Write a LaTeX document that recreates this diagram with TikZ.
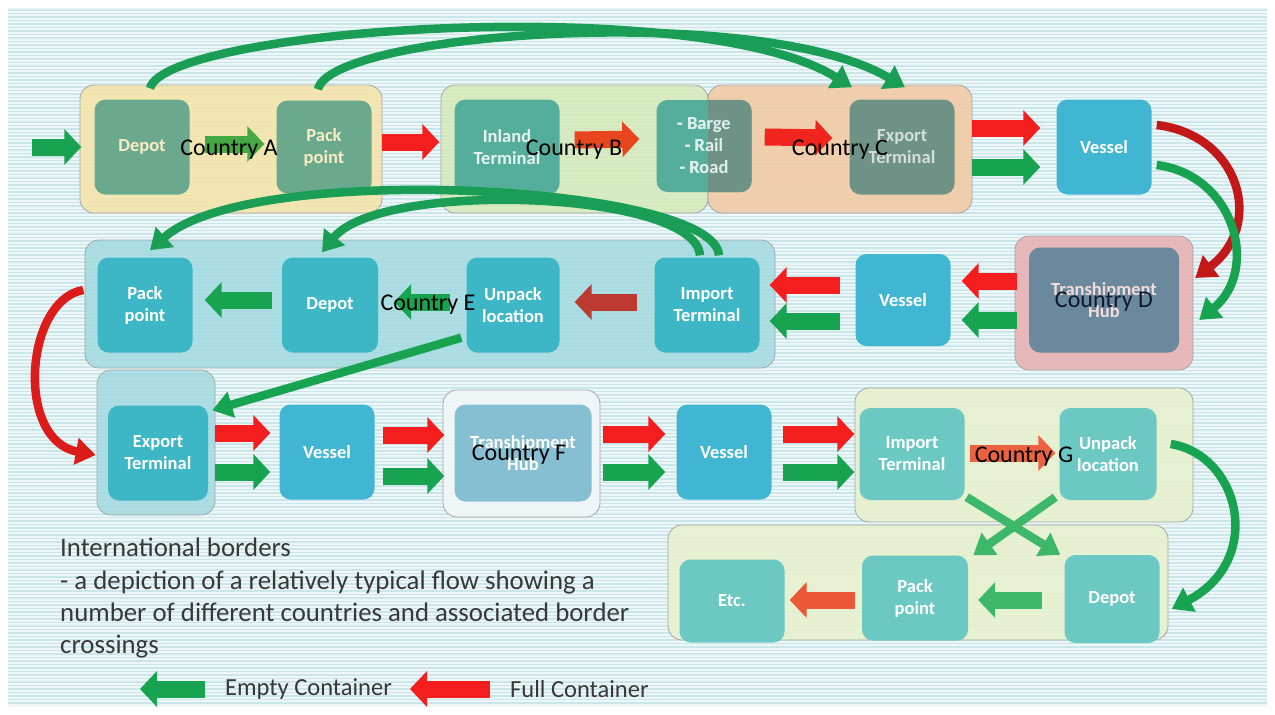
\documentclass[tikz,border=0pt]{standalone}
\usepackage{fontspec}
\setmainfont{Carlito}
\usetikzlibrary{arrows.meta,calc}
\definecolor{bgfill}{HTML}{EEF7F8}
\definecolor{bgline}{HTML}{CBE6EA}
\definecolor{rd}{HTML}{F41E1E}
\definecolor{gn}{HTML}{17A350}
\definecolor{lgn}{HTML}{3DB86B}
\definecolor{mgn}{HTML}{45A845}
\definecolor{drd}{HTML}{BD3A30}
\definecolor{ord}{HTML}{E8461E}
\definecolor{crvg}{HTML}{1A9E55}
\definecolor{contA}{HTML}{F6E4A6}
\definecolor{contB}{HTML}{D6E9B8}
\definecolor{contC}{HTML}{F2C9A2}
\definecolor{contD}{HTML}{E8AEB0}
\definecolor{contE}{HTML}{A2DAE0}
\definecolor{contF}{HTML}{F2F7F8}
\definecolor{contG}{HTML}{E8F1CC}
\definecolor{bxA}{HTML}{6BA98F}
\definecolor{bxB}{HTML}{55AE9B}
\definecolor{bxC}{HTML}{6F9287}
\definecolor{bxV}{HTML}{40B6D2}
\definecolor{bxE}{HTML}{3DB7C6}
\definecolor{bxD}{HTML}{6B899C}
\definecolor{bxF}{HTML}{86BFD2}
\definecolor{bxG}{HTML}{6CC8C2}
\definecolor{txt}{HTML}{383838}
\begin{document}
\begin{tikzpicture}[x=1pt,y=-1pt,
  cont/.style={draw=gray!70, fill opacity=0.85, rounded corners=14, line width=0.8},
  box/.style={rectangle, rounded corners=11, minimum width=95, minimum height=95,
    text=white, font=\fontsize{18.5}{22}\selectfont\bfseries, align=center, inner sep=2},
  ctry/.style={font=\fontsize{24}{26}\selectfont, text=black, inner sep=0},
  blk/.style={line width=17, -{Triangle[length=17,width=35]}},
  crv/.style={line width=8.5, -{Triangle[length=20,width=26]}},
]
\useasboundingbox (0,0) rectangle (1275,715);
\fill[white] (0,0) rectangle (1275,715);
\fill[bgfill] (8,8) rectangle (1267,707);
\foreach \yy in {10,13.5,...,706} \draw[bgline, line width=1.2] (8,\yy) -- (1267,\yy);

% containers
\draw[cont, fill=contA] (80,85) rectangle (382,213);
\draw[cont, fill=contB] (441,85) rectangle (708,213);
\draw[cont, fill=contC] (708,85) rectangle (972,213);
\draw[cont, fill=contE] (85,240) rectangle (775,368);
\draw[cont, fill=contD] (1015,236) rectangle (1193,370);
\draw[cont, fill=contE] (97,370) rectangle (215,515);
\draw[cont, fill=contF] (443,390) rectangle (600,517);
\draw[cont, fill=contG] (855,388) rectangle (1193,522);
\draw[cont, fill=contG] (668,525) rectangle (1168,640);

% row 1
\node[box, fill=bxA, text=contA!70!white] (depA) at (142,147) {Depot};
\node[box, fill=bxA, text=contA!70!white, minimum height=93] (packA) at (324,147) {Pack\\point};
\node[box, fill=bxB, text=white!85!bxB, minimum width=105] (inland) at (507,147) {Inland\\Terminal};
\node[box, fill=bxB, text=white!80!bxB, minimum height=92] (barge) at (704,146) {- Barge\\- Rail\\- Road};
\begin{scope}
\clip (708,95) rectangle (760,200);
\fill[bxC, rounded corners=11] (barge.south west) rectangle (barge.north east);
\end{scope}
\node[box, text=white!80!bxB, minimum height=92, align=center] at (704,146) {- Barge\\- Rail\\- Road};
\node[box, fill=bxC, text=white!70!bxC, minimum width=105] (exportC) at (902,147) {Export\\Terminal};
\node[box, fill=bxV] (vesselA) at (1104,147) {Vessel};

% row 2
\node[box, fill=bxE] (packE) at (145,305) {Pack\\point};
\node[box, fill=bxE, minimum width=96] (depE) at (330,305) {Depot};
\node[box, fill=bxE, minimum width=93] (unpackE) at (513,305) {Unpack\\location};
\node[box, fill=bxE, minimum width=105] (importE) at (707,305) {Import\\Terminal};
\node[box, fill=bxV, minimum height=92] (vesselB) at (903,300) {Vessel};
\node[box, fill=bxD, text=contD!45!white, minimum width=150, minimum height=105] (hubD) at (1104,300) {Transhipment\\Hub};

% row 3
\node[box, fill=bxE, minimum width=100] (exportT) at (158,453) {Export\\Terminal};
\node[box, fill=bxV] (vesselC) at (327,452) {Vessel};
\node[box, fill=bxF, minimum width=137, minimum height=97] (hubF) at (523,453) {Transhipment\\Hub};
\node[box, fill=bxV] (vesselD) at (724,452) {Vessel};
\node[box, fill=bxG, minimum width=105, minimum height=92] (importG) at (912,454) {Import\\Terminal};
\node[box, fill=bxG, minimum width=97, minimum height=92] (unpackG) at (1108,454) {Unpack\\location};

% row 4
\node[box, fill=bxG, minimum width=105, minimum height=83] (etc) at (732,601) {Etc.};
\node[box, fill=bxG, minimum width=106, minimum height=85] (packG) at (915,598) {Pack\\point};
\node[box, fill=bxG, minimum height=88] (depG) at (1112,599) {Depot};

% horizontal arrows row 1
\coordinate (entry) at (32,147);
\draw[blk, gn] (entry) -- ($(depA.west)+(-13,0)$);
\draw[blk, mgn] ($(depA.east)+(15,-3)$) -- ($(packA.west)+(-12,-3)$);
\draw[blk, rd] ($(packA.east)+(10,-5)$) -- ($(inland.west)+(-15,-5)$);
\draw[blk, ord] ($(inland.east)+(15,-7)$) -- ($(barge.west)+(-17,-7)$);
\draw[blk, rd!85!ord] ($(barge.east)+(13,-9)$) -- ($(exportC.west)+(-17,-9)$);
\draw[blk, rd] ($(exportC.east)+(17,-19)$) -- ($(vesselA.west)+(-16,-19)$);
\draw[blk, gn] ($(exportC.east)+(17,20)$) -- ($(vesselA.west)+(-16,20)$);

% row 2
\draw[blk, rd] ($(vesselB.west)+(-15,-15)$) -- ($(importE.east)+(10,-20)$);
\draw[blk, gn] ($(vesselB.west)+(-15,21)$) -- ($(importE.east)+(10,16)$);
\draw[blk, rd] ($(hubD.west)+(-12,-19)$) -- ($(vesselB.east)+(11,-19)$);
\draw[blk, gn] ($(hubD.west)+(-12,20)$) -- ($(vesselB.east)+(11,20)$);
\draw[blk, drd] ($(importE.west)+(-17,-3)$) -- ($(unpackE.east)+(15,-3)$);
\draw[blk, gn] ($(unpackE.west)+(-16,-3)$) -- ($(depE.east)+(16,-3)$);
\draw[blk, gn] ($(depE.west)+(-10,-5)$) -- ($(packE.east)+(12,-5)$);

% row 3
\draw[blk, rd] ($(exportT.east)+(7,-20)$) -- ($(vesselC.west)+(-9,-19)$);
\draw[blk, gn] ($(exportT.east)+(7,19)$) -- ($(vesselC.west)+(-9,20)$);
\draw[blk, rd] ($(vesselC.east)+(8,-17)$) -- ($(hubF.west)+(-10,-18)$);
\draw[blk, gn] ($(vesselC.east)+(8,24)$) -- ($(hubF.west)+(-10,23)$);
\draw[blk, rd] ($(hubF.east)+(11,-19)$) -- ($(vesselD.west)+(-11,-18)$);
\draw[blk, gn] ($(hubF.east)+(11,19)$) -- ($(vesselD.west)+(-11,20)$);
\draw[blk, rd] ($(vesselD.east)+(11,-18)$) -- ($(importG.west)+(-5,-20)$);
\draw[blk, gn] ($(vesselD.east)+(11,20)$) -- ($(importG.west)+(-5,18)$);
\draw[blk, ord!85!white] ($(importG.east)+(5,-1)$) -- ($(unpackG.west)+(-4,-1)$);

% row 4
\draw[blk, lgn] ($(depG.west)+(-22,1)$) -- ($(packG.east)+(10,2)$);
\draw[blk, ord!90!white] ($(packG.west)+(-7,2)$) -- ($(etc.east)+(5,-1)$);

% curved arrows
\draw[crv, crvg] ($(depA.north)+(8,-11)$) .. controls (165,28) and (700,-8) .. ($(exportC.north)+(-50,-12)$);
\draw[crv, crvg] ($(packA.north)+(-6,-11)$) .. controls (330,32) and (760,2) .. ($(exportC.north)+(3,-12)$);
\draw[crv, rd!80!black] ($(vesselA.east)+(5,-22)$) .. controls (1240,135) and (1265,225) .. ($(hubD.east)+(16,-22)$);
\draw[crv, gn] ($(vesselA.east)+(5,18)$) .. controls (1235,175) and (1260,270) .. ($(hubD.east)+(20,20)$);
\draw[crv, crvg] ($(importE.north)+(12,-2)$) .. controls (715,185) and (250,160) .. ($(packE.north)+(5,-7)$);
\draw[crv, crvg] ($(importE.north)+(-7,-2)$) .. controls (695,190) and (380,180) .. ($(depE.north)+(-8,-5)$);
\draw[crv, rd!90!black] ($(packE.west)+(-14,-15)$) .. controls (25,300) and (15,440) .. ($(exportT.west)+(-12,2)$);
\draw[crv, gn] ($(unpackE.south west)+(-5,-15)$) -- ($(exportT.north east)+(4,5)$);
\draw[crv, lgn] ($(importG.south east)+(2,-3)$) -- ($(depG.north west)+(-4,0)$);
\draw[crv, lgn] ($(unpackG.south west)+(-4,-3)$) -- ($(packG.north east)+(5,0)$);
\draw[crv, gn] ($(unpackG.east)+(14,-10)$) .. controls (1240,455) and (1265,560) .. ($(depG.east)+(12,10)$);

% country labels
\node[ctry] (lA) at (229,150) {Country A};
\node[ctry] (lB) at (574,150) {Country B};
\node[ctry] (lC) at (840,150) {Country C};
\node[ctry, text={rgb,255:red,15;green,25;blue,45}] (lD) at (1104,302) {Country D};
\node[ctry] (lE) at (428,305) {Country E};
\node[ctry] (lF) at (519,455) {Country F};
\node[ctry] (lG) at (1024,457) {Country G};

% description
\node[anchor=north west, align=left, text=txt, font=\fontsize{26.8}{32.3}\selectfont, inner sep=0] (desc) at (60,538)
  {International borders\\- a depiction of a relatively typical flow showing a\\number of different countries and associated border\\crossings};

% legend
\coordinate (lg1) at (205,689);
\coordinate (lg2) at (140,689);
\coordinate (lr1) at (490,689);
\coordinate (lr2) at (410,689);
\draw[blk, gn] (lg1) -- (lg2);
\draw[blk, rd] (lr1) -- (lr2);
\node[anchor=west, text=txt, font=\fontsize{24.5}{26}\selectfont, inner sep=0] (lgE) at (225,689) {Empty Container};
\node[anchor=west, text=txt, font=\fontsize{24.5}{26}\selectfont, inner sep=0] (lgF) at (510,689) {Full Container};
\end{tikzpicture}
\end{document}
